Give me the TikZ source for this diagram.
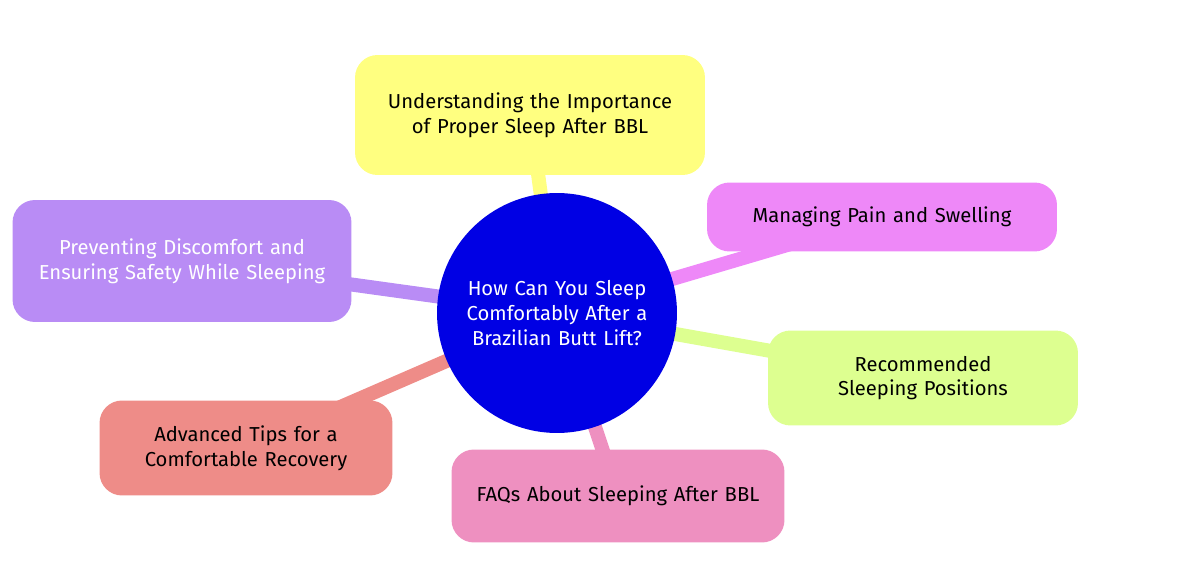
\documentclass[tikz,border=0pt]{standalone}
\usepackage{fontspec}
\setmainfont{Fira Sans}
\usetikzlibrary{backgrounds}
\definecolor{cblue}{HTML}{0000E4}
\definecolor{cyel}{HTML}{FFFF80}
\definecolor{cmag}{HTML}{EE88F8}
\definecolor{cgrn}{HTML}{DDFF90}
\definecolor{cpnk}{HTML}{EE90C0}
\definecolor{csal}{HTML}{EE8C88}
\definecolor{cpur}{HTML}{B98CF5}
\begin{document}
\begin{tikzpicture}
  [x=0.02cm,y=-0.02cm,
   every node/.style={font=\fontsize{11.5}{14}\selectfont,align=center},
   topic/.style={rounded corners=0.45cm,inner sep=0pt},
   link/.style={line width=8pt}]
  \useasboundingbox (0,0) rectangle (1200,577);
  \node[topic,fill=cyel,minimum width=7cm,minimum height=2.4cm,text width=6cm] (n1) at (530,115) {Understanding the Importance of Proper Sleep After BBL};
  \node[topic,fill=cmag,minimum width=7cm,minimum height=1.38cm,text width=6.4cm] (n2) at (882,217) {Managing Pain and Swelling};
  \node[topic,fill=cgrn,minimum width=6.2cm,minimum height=1.9cm,text width=5.6cm] (n3) at (923,378) {Recommended Sleeping Positions};
  \node[topic,fill=cpnk,minimum width=6.66cm,minimum height=1.86cm,text width=6cm] (n4) at (618,496) {FAQs About Sleeping After BBL};
  \node[topic,fill=csal,minimum width=5.86cm,minimum height=1.9cm,text width=5.4cm] (n5) at (246,448) {Advanced Tips for a Comfortable Recovery};
  \node[topic,fill=cpur,text=white,minimum width=6.78cm,minimum height=2.44cm,text width=6cm] (n6) at (182,261) {Preventing Discomfort and Ensuring Safety While Sleeping};
  \node[circle,fill=cblue,text=white,minimum size=4.8cm,text width=4.3cm,inner sep=0pt] (c) at (557,313) {How Can You Sleep Comfortably After a Brazilian Butt Lift?};
  % connectors under the boxes
  \begin{scope}[on background layer]
  \foreach \n/\col in {n1/cyel,n2/cmag,n3/cgrn,n4/cpnk,n5/csal,n6/cpur}
    \draw[link,\col] (c.center) -- (\n.center);
  \end{scope}
\end{tikzpicture}
\end{document}
